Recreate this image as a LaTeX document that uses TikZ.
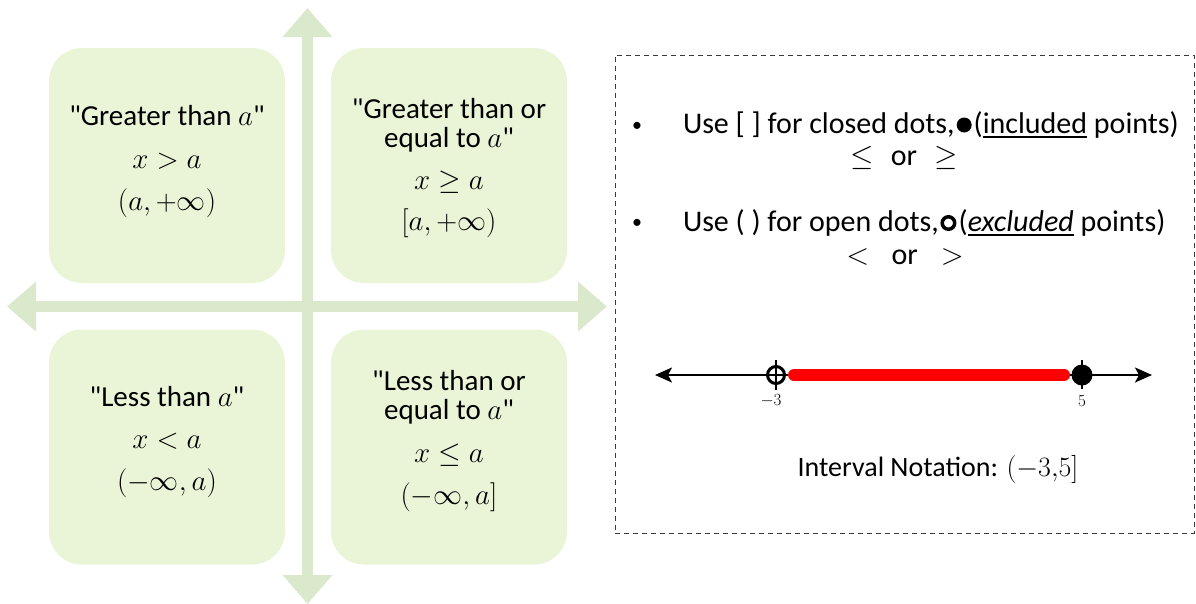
\RequirePackage{fix-cm}
\documentclass[tikz,border=0pt]{standalone}
\usepackage{fontspec}
\setmainfont{Carlito}[Ligatures=TeXOff]
\usetikzlibrary{arrows.meta,calc}
\definecolor{crossgreen}{HTML}{DAE8CC}
\definecolor{boxgreen}{HTML}{EAF4D6}
\definecolor{panelgray}{HTML}{3A3A3A}
\definecolor{rayred}{HTML}{FF0000}
% underline with a heavier rule set a little below the baseline
\newcommand{\ulword}[1]{\setbox0\hbox{#1}\rlap{\rule[-4.5pt]{\wd0}{1.8pt}}\box0\relax}
\begin{document}
\begin{tikzpicture}[x=1pt,y=-1pt,
  every node/.style={inner sep=0pt,outer sep=0pt},
  crossarrow/.style={crossgreen,line width=11.5pt,
    {Triangle[width=48pt,length=29pt]}-{Triangle[width=48pt,length=29pt]}},
  quadrant/.style={fill=boxgreen,rounded corners=33pt,minimum width=236pt,minimum height=235pt},
  boxline/.style={anchor=base,font=\fontsize{29}{34}\selectfont},
  ptext/.style={anchor=base west,font=\fontsize{30}{35}\selectfont},
  pcenter/.style={anchor=base,font=\fontsize{30}{35}\selectfont},
  numline/.style={line width=2pt,
    {Stealth[width=15pt,length=17pt,inset=4pt]}-{Stealth[width=15pt,length=17pt,inset=4pt]}},
  marktick/.style={line width=2pt},
  numlabel/.style={anchor=base,font=\fontsize{17}{20}\selectfont},
  bulletmark/.style={anchor=base,font=\fontsize{20}{24}\selectfont},
]
\useasboundingbox (0,0) rectangle (1196,603);

% ---- green cross of arrows ----
\coordinate (ctop) at (307.5,8);
\coordinate (cbot) at (307.5,604);
\coordinate (cleft) at (7,306.5);
\coordinate (cright) at (607,306.5);
\draw[crossarrow] (ctop) -- (cbot);
\draw[crossarrow] (cleft) -- (cright);

% ---- four quadrant boxes ----
\node[quadrant] (gt) at (167,165.5) {};
\node[quadrant] (ge) at (449,165.5) {};
\node[quadrant] (lt) at (167,447) {};
\node[quadrant] (le) at (449,447) {};

\node[boxline] (gt1) at (167,125) {"Greater than $a$"};
\node[boxline] (gt2) at (167,168) {$x>a$};
\node[boxline] (gt3) at (167,210) {$(a,+\infty)$};

\node[boxline] (ge1) at (449,118) {"Greater than or};
\node[boxline] (ge2) at (449,147) {equal to $a$"};
\node[boxline] (ge3) at (449,189) {$x\geq a$};
\node[boxline] (ge4) at (449,230) {$[a,+\infty)$};

\node[boxline] (lt1) at (167,406) {"Less than $a$"};
\node[boxline] (lt2) at (167,448) {$x<a$};
\node[boxline] (lt3) at (167,490) {$(-\infty,a)$};

\node[boxline] (le1) at (449,390) {"Less than or};
\node[boxline] (le2) at (449,419) {equal to $a$"};
\node[boxline] (le3) at (449,462) {$x\leq a$};
\node[boxline] (le4) at (449,504) {$(-\infty,a]$};

% ---- dashed note panel ----
\node[draw=panelgray,line width=1pt,dash pattern=on 5pt off 4pt,
      minimum width=579pt,minimum height=478pt] (panel) at (904.5,294) {};

\node[bulletmark] (bul1) at (637,131) {•};
\node[ptext] (u1) at (683,133) {Use [ ] for closed dots,};
\node[circle,fill=black,minimum size=15pt,xshift=9.5pt,yshift=8pt] (cdot) at (u1.base east) {};
\node[ptext,xshift=2pt] (u1b) at (cdot.east |- u1.base) {(\ulword{included} points)};
\node[pcenter] (r1) at (904,165) {\smash{$\leq$}\hspace{17pt}or\hspace{17pt}\smash{$\geq$}};

\node[bulletmark] (bul2) at (637,228) {•};
\node[ptext] (u2) at (683,231) {Use ( ) for open dots,};
\node[circle,draw=black,line width=3.5pt,minimum size=12.5pt,xshift=9.5pt,yshift=8pt] (odot) at (u2.base east) {};
\node[ptext,xshift=4pt] (u2b) at (odot.east |- u2.base) {(\textit{\ulword{excluded}} points)};
\node[pcenter] (r2) at (905,264) {\smash{$<$}\hspace{22.5pt}or\hspace{23pt}\smash{$>$}};

% ---- number line ----
\coordinate (nlL) at (655,375);
\coordinate (nlR) at (1152,375);
\draw[numline] (nlL) -- (nlR);
\node[circle,draw=black,line width=3pt,minimum size=17pt] (pm3) at (776,375) {};
\node[circle,fill=black,minimum size=21pt] (p5) at (1082,375) {};
\draw[rayred,line width=12pt,line cap=round,shorten <=9.5pt,shorten >=7.5pt] (pm3.east) -- (p5.west);
\draw[marktick] ($(pm3.center)+(0,-15)$) -- ($(pm3.center)+(0,15)$);
\draw[marktick] ($(p5.center)+(0,-15)$) -- ($(p5.center)+(0,14)$);
\node[numlabel] (lm3) at (771,405) {$-3$};
\node[numlabel] (l5) at (1082,406) {$5$};

\node[anchor=base,font=\fontsize{28}{33}\selectfont] (ivn) at (938,476) {Interval Notation: $(-3{,}5]$};
\end{tikzpicture}
\end{document}
